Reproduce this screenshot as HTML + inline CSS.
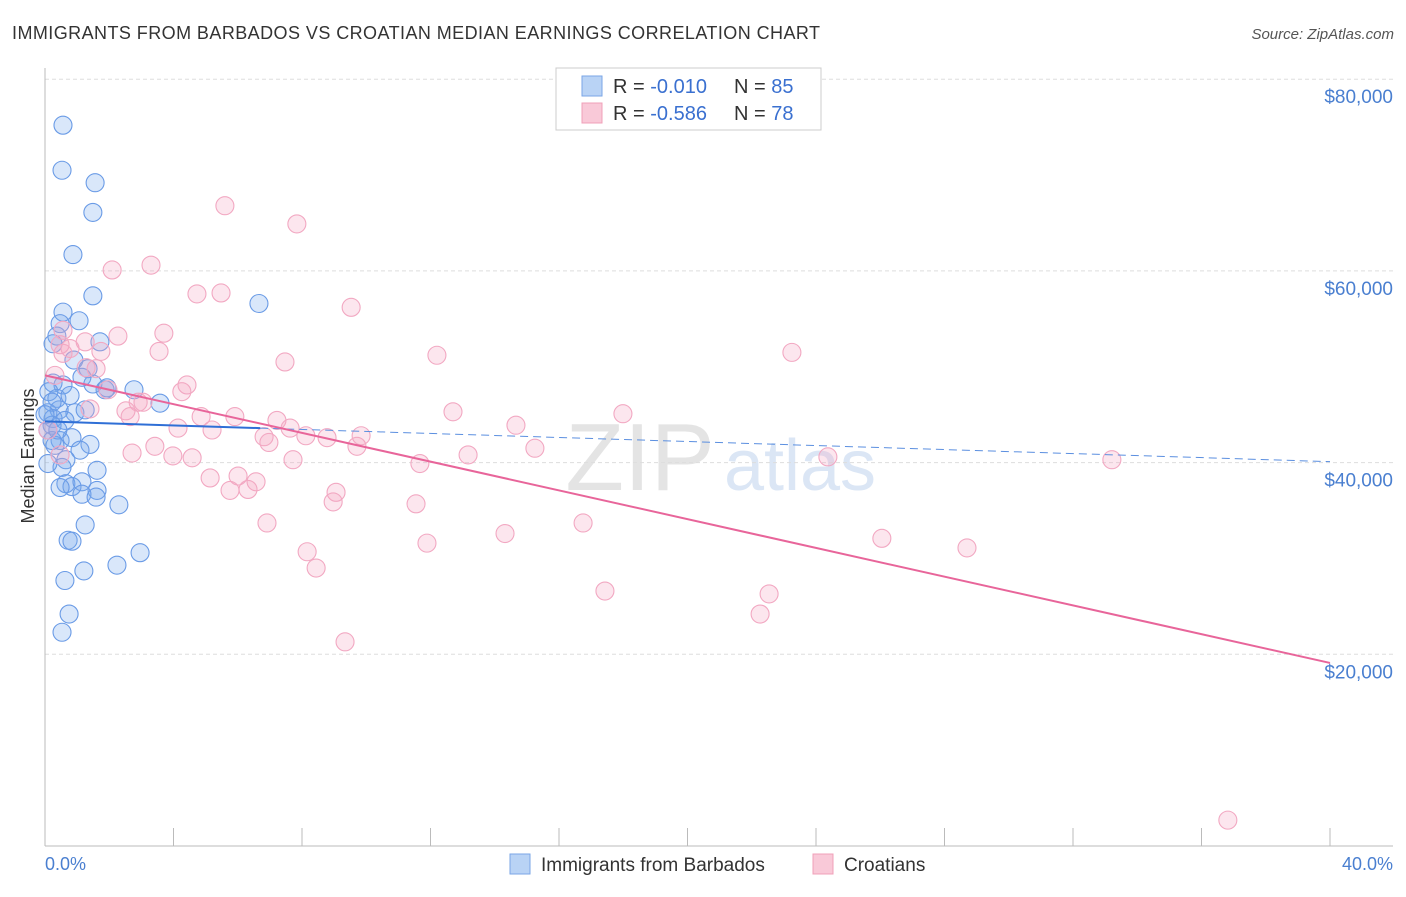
<!DOCTYPE html>
<html><head><meta charset="utf-8"><style>
body{margin:0;background:#fff;font-family:"Liberation Sans",sans-serif;}
svg text{font-family:"Liberation Sans",sans-serif;}
</style></head><body>
<svg id="c" width="1406" height="892" xmlns="http://www.w3.org/2000/svg">
<text x="12" y="39" font-size="18" fill="#333" textLength="808">IMMIGRANTS FROM BARBADOS VS CROATIAN MEDIAN EARNINGS CORRELATION CHART</text>
<text x="1394" y="39" font-size="15" fill="#555" font-style="italic" text-anchor="end">Source: ZipAtlas.com</text>
<text x="640" y="490" font-size="96" fill="#e4e4e4" font-family="Liberation Serif" text-anchor="middle">ZIP</text>
<text x="800" y="490" font-size="72" fill="#dbe6f5" text-anchor="middle">atlas</text>
<g id="grid"></g><g id="axes"></g><g id="pts"></g><g id="lines"></g>
<text transform="translate(34,456) rotate(-90)" font-size="18" fill="#333" text-anchor="middle">Median Earnings</text>
<text x="45" y="870" font-size="18" fill="#4a7fd0">0.0%</text>
<text x="1393" y="870" font-size="18" fill="#4a7fd0" text-anchor="end">40.0%</text>
<g>
<rect x="556" y="68" width="265" height="62" fill="#fff" stroke="#ccc"/>
<rect x="582" y="76" width="20" height="20" fill="#b9d3f5" stroke="#7aa6e6"/>
<rect x="582" y="103" width="20" height="20" fill="#f9c9d8" stroke="#f0a0b8"/>
<text x="613" y="93" font-size="20" fill="#333">R = <tspan fill="#3a70d0">-0.010</tspan></text>
<text x="734" y="93" font-size="20" fill="#333">N = <tspan fill="#3a70d0">85</tspan></text>
<text x="613" y="120" font-size="20" fill="#333">R = <tspan fill="#3a70d0">-0.586</tspan></text>
<text x="734" y="120" font-size="20" fill="#333">N = <tspan fill="#3a70d0">78</tspan></text>
</g>
<g>
<rect x="510" y="854" width="20" height="20" fill="#b9d3f5" stroke="#7aa6e6"/>
<text x="541" y="871" font-size="19" fill="#333">Immigrants from Barbados</text>
<rect x="813" y="854" width="20" height="20" fill="#f9c9d8" stroke="#f0a0b8"/>
<text x="844" y="871" font-size="19" fill="#333">Croatians</text>
</g>
</svg>
<script>
const yTicks=[20000,40000,60000,80000];
const yTickLabels=["$20,000","$40,000","$60,000","$80,000"];
const blueX=[0.56,0.53,1.56,1.49,0.87,1.49,6.66,0.56,1.06,0.47,0.37,1.71,0.25,0.9,1.34,0.25,0.56,1.15,1.49,1.87,0.12,0.37,0.78,0.93,1.25,0.44,0.09,0.25,0.62,0.22,0.09,0.47,0.84,1.4,0.31,1.09,0.65,0.53,1.62,0.09,0.65,0.84,0.47,1.15,1.62,1.15,1.59,2.3,1.25,0.72,0.84,2.24,2.96,1.21,0.62,0.75,0.53,3.58,2.77,1.93,0.22,0.22,0,0.4];
const blueY=[75200,70500,69200,66100,61700,57400,56600,55700,54800,54500,53200,52600,52400,50700,49800,48300,48100,48900,48200,47600,47400,46700,47000,45200,45500,45500,45200,44600,44400,43900,43400,42300,42600,41900,41800,41300,40300,39500,39200,39900,37800,37500,37400,38000,37100,36700,36400,35600,33500,31900,31800,29300,30600,28700,27700,24200,22300,46200,47600,47800,42300,46300,45000,43400];
const pinkX=[5.6,7.84,2.09,3.3,4.73,5.48,9.53,0.56,2.27,3.7,0.47,1.74,3.55,0.78,12.2,23.25,7.47,1.59,1.28,1.96,4.42,4.26,3.05,2.9,2.52,2.65,5.91,4.86,7.22,7.63,5.2,4.14,6.82,6.97,8.12,8.78,9.84,9.71,12.7,17.99,14.66,3.42,2.71,3.98,4.58,7.72,11.67,13.17,15.25,24.37,33.21,6.01,5.14,6.57,5.76,6.32,9.06,8.97,11.55,6.91,16.75,14.32,26.05,28.7,11.89,8.16,8.44,17.43,22.54,22.26,9.34,36.82,0.56,1.4,0.31,0.09,0.47,1.25];
const pinkY=[66800,64900,60100,60600,57600,57700,56200,53800,53200,53500,52300,51600,51600,51900,51200,51500,50500,49800,49900,47600,48100,47400,46300,46300,45400,44800,44800,44800,44400,43600,43400,43600,42700,42100,42800,42600,42800,41700,45300,45100,43900,41700,41000,40700,40500,40300,39900,40800,41500,40600,40300,38600,38400,38000,37100,37200,36900,35900,35700,33700,33700,32600,32100,31100,31600,30700,29000,26600,26300,24200,21300,2700,51400,45600,49100,43400,40800,52600];
const blueTrend=[44300,40100];
const pinkTrend=[49100,19100];
const blueSolidEnd=6.7;

const NS="http://www.w3.org/2000/svg";
const X0=45,X1=1330,YB=846,PX20=191.7;
const xs=v=>X0+v/40*(X1-X0);
const ys=v=>YB-v/20000*PX20;
function mk(tag,attrs,parent){const e=document.createElementNS(NS,tag);for(const k in attrs)e.setAttribute(k,attrs[k]);document.getElementById(parent).appendChild(e);return e;}
yTicks.forEach((t,i)=>{
 const g=mk('line',{x1:X0,x2:1393,y1:ys(t),y2:ys(t),stroke:'#ddd','stroke-dasharray':'4,3'},'grid');
 
 
 const tx=mk('text',{x:1393,y:ys(t)+24,'font-size':19,fill:'#4a7fd0','text-anchor':'end'},'grid');
 tx.textContent=yTickLabels[i];
 
 
});
const ax=mk('line',{x1:X0,x2:X0,y1:68,y2:YB,stroke:'#bbb'},'axes');


const bx=mk('line',{x1:X0,x2:1393,y1:YB,y2:YB,stroke:'#bbb'},'axes');


for(let i=0;i<=10;i++){const t=mk('line',{x1:xs(i*4),x2:xs(i*4),y1:YB,y2:828,stroke:'#bbb'},'axes');
 
 }
function pts(X,Y,fill,stroke,name){X.forEach((x,i)=>{const c=mk('circle',{cx:xs(x),cy:ys(Y[i]),r:9,fill:fill,stroke:stroke,'stroke-width':1.1},'pts');
 
 });}
pts(blueX,blueY,'rgba(120,168,238,0.28)','#6a9be6','barbados-point');
pts(pinkX,pinkY,'rgba(245,165,195,0.28)','#f2a8c2','croatian-point');
const bAt=x=>blueTrend[0]+(blueTrend[1]-blueTrend[0])*x/40;
const l1=mk('line',{x1:xs(0),y1:ys(bAt(0)),x2:xs(blueSolidEnd),y2:ys(bAt(blueSolidEnd)),stroke:'#2f6fd6','stroke-width':2},'lines');


const l2=mk('line',{x1:xs(blueSolidEnd),y1:ys(bAt(blueSolidEnd)),x2:xs(40),y2:ys(bAt(40)),stroke:'#5b8fe0','stroke-width':1,'stroke-dasharray':'8,5'},'lines');


const l3=mk('line',{x1:xs(0),y1:ys(pinkTrend[0]),x2:xs(40),y2:ys(pinkTrend[1]),stroke:'#e8659a','stroke-width':2},'lines');


</script>
</body></html>
